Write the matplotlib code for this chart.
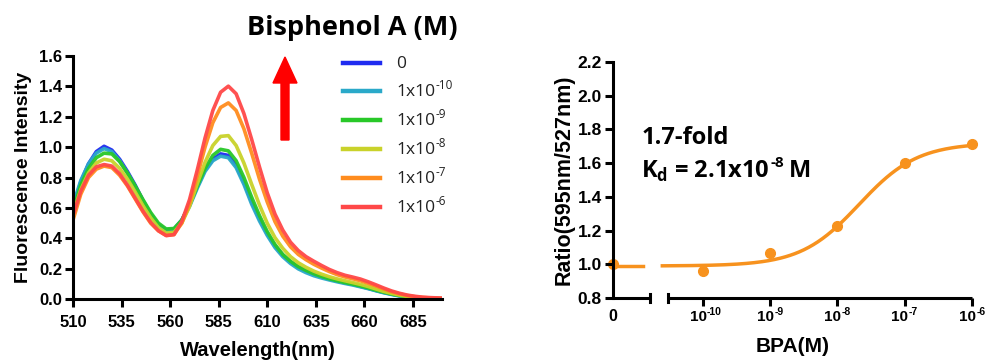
import numpy as np
import matplotlib
matplotlib.use("Agg")
import matplotlib.pyplot as plt
from matplotlib.lines import Line2D
from matplotlib.patches import FancyArrow
from matplotlib.ticker import FormatStrFormatter

plt.rcParams["font.family"] = ["Liberation Sans", "DejaVu Sans"]
plt.rcParams["mathtext.fontset"] = "custom"
plt.rcParams["mathtext.rm"] = "Open Sans"
plt.rcParams["mathtext.bf"] = "Open Sans:bold"

# ---- emission spectra -------------------------------------------------------
wavelength = np.arange(510, 703, 4)

spec_0 = [0.60, 0.77, 0.89, 0.97, 1.005, 0.98, 0.92, 0.84, 0.75, 0.65, 0.56, 0.49,
          0.455, 0.46, 0.52, 0.62, 0.74, 0.85, 0.92, 0.955, 0.945, 0.88, 0.77, 0.64,
          0.53, 0.43, 0.35, 0.29, 0.245, 0.21, 0.185, 0.165, 0.148, 0.133, 0.12, 0.108,
          0.098, 0.085, 0.072, 0.058, 0.045, 0.034, 0.024, 0.016, 0.011, 0.007, 0.005,
          0.004, 0.003]
spec_1e10 = [0.62, 0.78, 0.89, 0.96, 0.99, 0.97, 0.91, 0.83, 0.74, 0.645, 0.555, 0.485,
             0.45, 0.455, 0.515, 0.61, 0.73, 0.84, 0.91, 0.94, 0.93, 0.865, 0.755, 0.625,
             0.515, 0.42, 0.34, 0.28, 0.235, 0.2, 0.175, 0.155, 0.14, 0.127, 0.115, 0.104,
             0.094, 0.082, 0.07, 0.056, 0.043, 0.032, 0.022, 0.015, 0.01, 0.007, 0.005,
             0.004, 0.003]
spec_1e9 = [0.58, 0.75, 0.86, 0.93, 0.96, 0.955, 0.905, 0.83, 0.745, 0.655, 0.57, 0.50,
            0.462, 0.465, 0.52, 0.62, 0.745, 0.86, 0.945, 0.985, 0.975, 0.91, 0.80, 0.67,
            0.55, 0.445, 0.36, 0.295, 0.25, 0.215, 0.19, 0.168, 0.15, 0.135, 0.122, 0.11,
            0.10, 0.088, 0.075, 0.06, 0.047, 0.035, 0.025, 0.017, 0.012, 0.008, 0.006,
            0.004, 0.003]
spec_1e8 = [0.56, 0.72, 0.83, 0.895, 0.92, 0.91, 0.86, 0.79, 0.705, 0.615, 0.535, 0.47,
            0.435, 0.44, 0.50, 0.61, 0.76, 0.90, 1.01, 1.07, 1.075, 1.01, 0.895, 0.755,
            0.62, 0.50, 0.405, 0.335, 0.28, 0.24, 0.21, 0.185, 0.165, 0.148, 0.134, 0.122,
            0.11, 0.098, 0.084, 0.068, 0.052, 0.039, 0.028, 0.019, 0.013, 0.009, 0.006,
            0.005, 0.004]
spec_1e7 = [0.52, 0.69, 0.80, 0.855, 0.875, 0.865, 0.815, 0.745, 0.66, 0.575, 0.50, 0.45,
            0.42, 0.425, 0.50, 0.63, 0.81, 1.00, 1.16, 1.26, 1.29, 1.24, 1.12, 0.96,
            0.79, 0.64, 0.51, 0.415, 0.345, 0.295, 0.26, 0.23, 0.205, 0.182, 0.162, 0.147,
            0.135, 0.122, 0.105, 0.087, 0.068, 0.05, 0.036, 0.025, 0.017, 0.012, 0.009,
            0.007, 0.005]
spec_1e6 = [0.55, 0.71, 0.815, 0.87, 0.885, 0.875, 0.825, 0.75, 0.665, 0.58, 0.505, 0.45,
            0.418, 0.425, 0.51, 0.655, 0.85, 1.06, 1.24, 1.36, 1.40, 1.35, 1.22, 1.05,
            0.87, 0.70, 0.56, 0.455, 0.375, 0.32, 0.28, 0.25, 0.222, 0.196, 0.175, 0.158,
            0.146, 0.133, 0.115, 0.095, 0.074, 0.055, 0.04, 0.028, 0.02, 0.014, 0.011,
            0.009, 0.007]

spectra = [spec_0, spec_1e10, spec_1e9, spec_1e8, spec_1e7, spec_1e6]
legend_base = ["0", "1x10", "1x10", "1x10", "1x10", "1x10"]
legend_exp = ["", "-10", "-9", "-8", "-7", "-6"]
spec_colors = ["#1f2bf0", "#2aa9c9", "#28c828", "#c9d22a", "#ff8c1e", "#ff4848"]

# ---- ratio titration --------------------------------------------------------
log_conc = [-10, -9, -8, -7, -6]
x_tick_exp = ["-10", "-9", "-8", "-7", "-6"]
ratio_zero = 1.00
ratio_vals = [0.962, 1.065, 1.227, 1.599, 1.713]
fit_bottom = 0.99
fit_top = 1.72
kd = 2.1e-8
zero_pos = -11.333

W, H = 989, 362
fig = plt.figure(figsize=(W / 100, H / 100), dpi=100)


def fig_xy(px, py):
    return px / W, 1 - py / H


# ---------------- left panel ----------------
ax1 = fig.add_axes([73 / W, 62.7 / H, 369 / W, 243.6 / H])
for ys, c in zip(spectra, spec_colors):
    ax1.plot(wavelength, ys, color=c, lw=2.6, solid_capstyle="round", alpha=0.95)
ax1.set_xlim(510, 700)
ax1.set_ylim(0, 1.6)
ax1.set_xticks(np.arange(510, 700, 25))
ax1.set_yticks(np.arange(0, 1.61, 0.2))
ax1.yaxis.set_major_formatter(FormatStrFormatter("%.1f"))
for s in ["top", "right"]:
    ax1.spines[s].set_visible(False)
for s in ["left", "bottom"]:
    ax1.spines[s].set_linewidth(2.2)
ax1.tick_params(width=2.2, length=6, labelsize=12)
ax1.tick_params(axis="x", pad=5)
ax1.tick_params(axis="y", pad=2)
for lab in ax1.get_xticklabels() + ax1.get_yticklabels():
    lab.set_fontweight("bold")
ax1.set_xlabel("Wavelength(nm)", fontsize=14.5, fontweight="bold", labelpad=8)
ax1.set_ylabel("Fluorescence Intensity", fontsize=14, fontweight="bold", labelpad=5)

# title above the legend
fig.text(*fig_xy(352, 28), "Bisphenol A (M)", fontsize=19.5, fontweight="bold",
         family="Open Sans", ha="center", va="center")

# upward arrow, drawn in inches so the head keeps its shape
arrow = FancyArrow(2.85, (H - 140) / 100, 0, (140 - 57) / 100, width=0.08,
                   head_width=0.24, head_length=0.26, length_includes_head=True,
                   color="#ff0000", transform=fig.dpi_scale_trans)
fig.add_artist(arrow)

# legend rows
row_y = [63, 91, 120, 149, 178, 207]
for y, c, base, ex in zip(row_y, spec_colors, legend_base, legend_exp):
    fx, fy = fig_xy(396, y + 5)
    fig.add_artist(Line2D([343 / W, 380 / W], [1 - y / H, 1 - y / H], color=c, lw=3.2,
                          transform=fig.transFigure))
    t = fig.text(fx, fy, base, fontsize=12.5, family="Open Sans", ha="left",
                 va="baseline", color="#222222")
    if ex:
        ax1.annotate(ex, xy=(1, fy), xycoords=(t, "figure fraction"), xytext=(0.3, 5),
                     textcoords="offset points", fontsize=8.5, family="Open Sans",
                     color="#222222", ha="left", va="baseline", annotation_clip=False)

# ---------------- right panel ----------------
ax2 = fig.add_axes([613 / W, 64 / H, 359 / W, 236 / H])
ax2.set_xlim(zero_pos, -6)
ax2.set_ylim(0.8, 2.2)
ax2.set_yticks(np.arange(0.8, 2.21, 0.2))
ax2.yaxis.set_major_formatter(FormatStrFormatter("%.1f"))
ax2.set_xticks(log_conc)
ax2.set_xticklabels([""] * len(log_conc))
for s in ["top", "right", "bottom"]:
    ax2.spines[s].set_visible(False)
ax2.spines["left"].set_linewidth(2.2)
ax2.tick_params(width=2.2, length=6, labelsize=12.5, pad=2)
for lab in ax2.get_yticklabels():
    lab.set_fontweight("bold")

# power-of-ten tick labels
xtrans = ax2.get_xaxis_transform()
tick_base_y = -0.098
for xv, ex in zip(log_conc, x_tick_exp):
    base = ax2.text(xv - 0.07, tick_base_y, "10", transform=xtrans, ha="center",
                    va="baseline", fontsize=11, fontweight="bold")
    ax2.annotate(ex, xy=(1, tick_base_y), xycoords=(base, "axes fraction"),
                 xytext=(0.3, 4.5), textcoords="offset points", fontsize=7.5,
                 fontweight="bold", ha="left", va="baseline", annotation_clip=False)
ax2.text(zero_pos, tick_base_y, "0", transform=xtrans, ha="center", va="baseline",
         fontsize=11.5, fontweight="bold")

# broken x axis
seg_a = (zero_pos, -10.79)
seg_b = (-10.52, -6)
for a, b in (seg_a, seg_b):
    ax2.plot([a, b], [0.8, 0.8], color="black", lw=2.2, clip_on=False,
             solid_capstyle="butt", zorder=3)
for xe in (seg_a[1], seg_b[0]):
    ax2.plot([xe, xe], [0.778, 0.822], color="black", lw=2.2, clip_on=False, zorder=3)

orange = "#f7921e"
xfit = np.linspace(-10.6, -6, 200)
yfit = fit_bottom + (fit_top - fit_bottom) / (1 + 10 ** (np.log10(kd) - xfit))
ax2.plot(xfit, yfit, color=orange, lw=2.5, clip_on=False)
ax2.plot([zero_pos, -10.89], [fit_bottom, fit_bottom], color=orange, lw=2.5)
ax2.plot(log_conc, ratio_vals, "o", color=orange, ms=7, clip_on=False, zorder=4)
ax2.plot([zero_pos], [ratio_zero], "o", color=orange, ms=7, clip_on=False, zorder=1)

ax2.set_xlabel("BPA(M)", fontsize=15, fontweight="bold", labelpad=20)
ax2.set_ylabel("Ratio(595nm/527nm)", fontsize=15.5, fontweight="bold", labelpad=2)

ax2.text(-10.91, 1.75, "1.7-fold", fontsize=17, fontweight="bold", family="Open Sans",
         ha="left", va="center")
kd_y = 1.515
kd_base = ax2.text(-10.91, kd_y, r"K$_\mathregular{d}$ = 2.1x10", fontsize=17,
                   fontweight="bold", family="Open Sans", ha="left", va="baseline")
kd_sup = ax2.annotate("-8", xy=(1, kd_y), xycoords=(kd_base, "data"), xytext=(0.5, 7.5),
                      textcoords="offset points", fontsize=11, fontweight="bold",
                      family="Open Sans", ha="left", va="baseline", annotation_clip=False)
ax2.annotate("M", xy=(1, kd_y), xycoords=(kd_sup, "data"), xytext=(3, 0),
             textcoords="offset points", fontsize=17, fontweight="bold",
             family="Open Sans", ha="left", va="baseline", annotation_clip=False)

fig.savefig("out.png", dpi=100)
